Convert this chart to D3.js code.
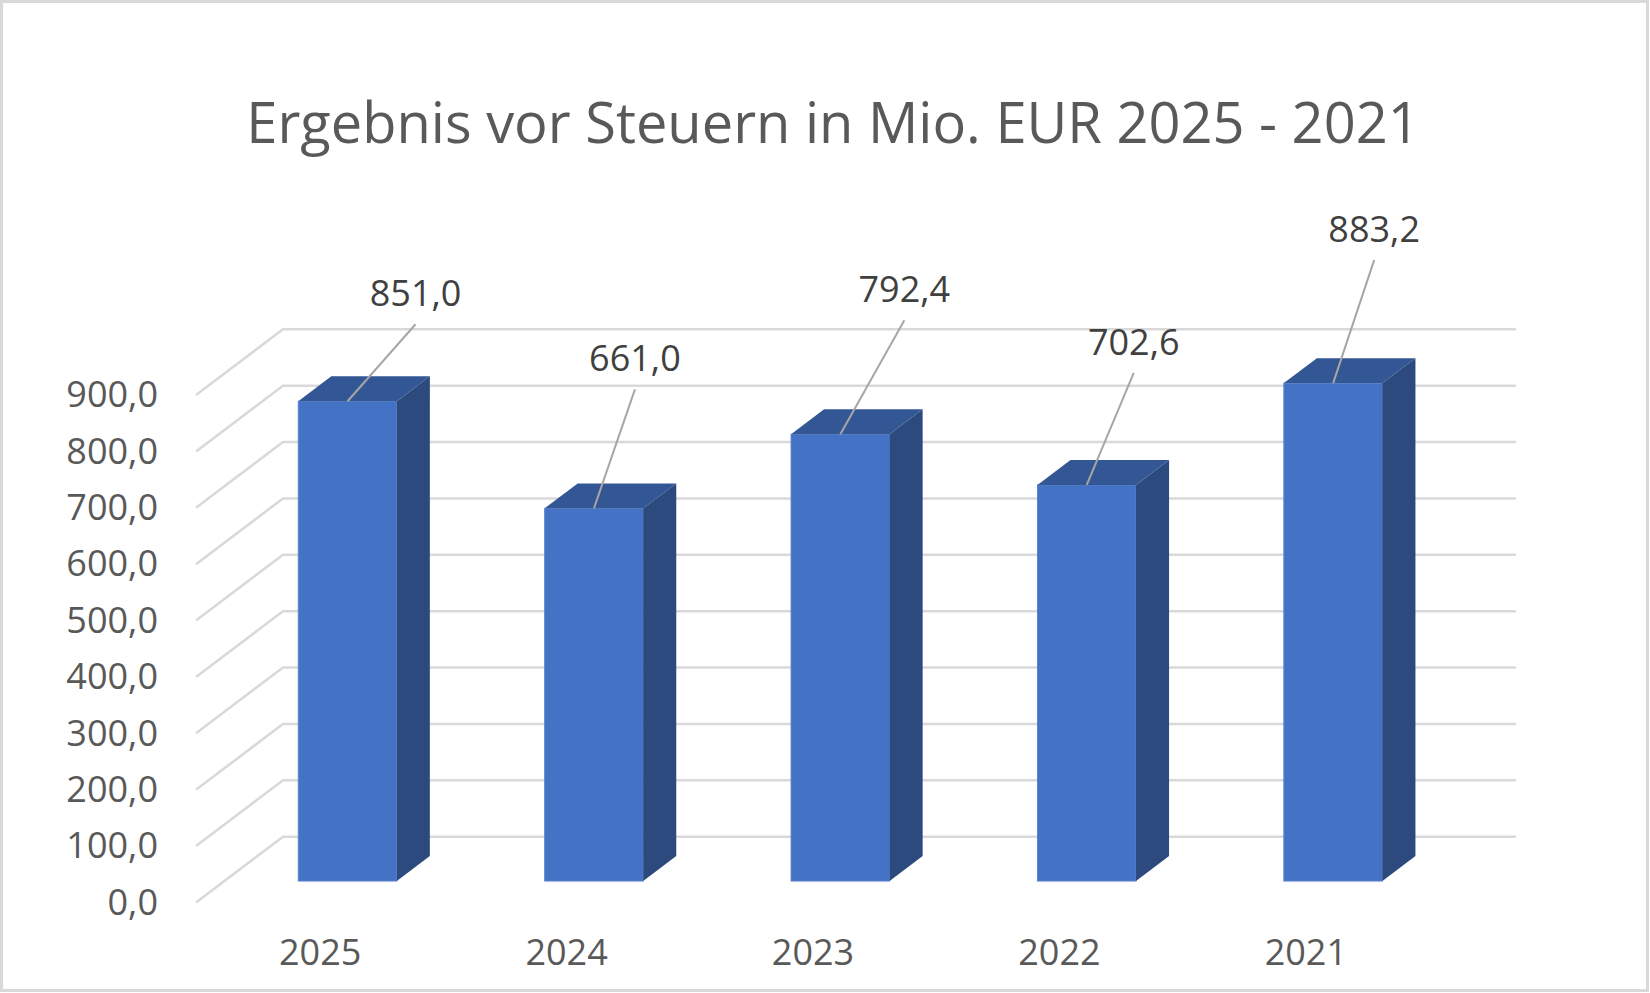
<!DOCTYPE html>
<html>
<head>
<meta charset="utf-8">
<script src="https://cdn.jsdelivr.net/npm/d3@7"></script>
<style>
  html, body { margin: 0; padding: 0; background: #fff; }
  svg { display: block; font-family: "Open Sans", sans-serif; }
</style>
</head>
<body>
<svg id="chart" width="1650" height="993"></svg>
<script>
// data
const years  = ['2025', '2024', '2023', '2022', '2021'];
const values = [851.0, 661.0, 792.4, 702.6, 883.2];
const yTicks = [0, 100, 200, 300, 400, 500, 600, 700, 800, 900];
const title  = 'Ergebnis vor Steuern in Mio. EUR 2025 - 2021';

// label placement (manually moved labels, offset from bar top edge)
const labelDX = [68, 41, 64, 47, 41];
const labelDY = [-95, -137, -132, -130, -141];

(function() {
  const W = 1650, H = 993;
  const svg = d3.select('#chart');
  const loc = d3.formatLocale({ decimal: ',', thousands: '.', grouping: [3], currency: ['', ' €'] });
  const fmt = loc.format('.1f');

  // 3d floor geometry: front plane + depth vector
  const DX = 86, DY = -65;
  const Z0 = 0.318, Z1 = 0.702;   // bar front / back depth

  const x = d3.scaleBand().domain(years).range([197, 1429])
    .paddingInner(0.6).paddingOuter(0.3);
  const y = d3.scaleLinear().domain([0, 900]).range([901.7, 394.3]);

  // border
  svg.append('rect')
    .attr('x', 1.5).attr('y', 1.5).attr('width', W - 4).attr('height', H - 4)
    .attr('fill', '#fff').attr('stroke', '#d9d9d9').attr('stroke-width', 3);

  // title
  const t = svg.append('text')
    .attr('x', 833).attr('y', 143)
    .attr('text-anchor', 'middle')
    .attr('fill', '#595959')
    .attr('font-size', 56)
    .text(title);
  const tw = t.node().getComputedTextLength();
  if (tw > 1175) t.attr('textLength', 1175).attr('lengthAdjust', 'spacingAndGlyphs');

  // gridlines: left wall diagonal + back wall horizontal
  const grid = svg.append('g').attr('stroke', '#d9d9d9').attr('stroke-width', 2.6)
    .attr('fill', 'none').attr('stroke-linecap', 'round');
  yTicks.forEach(v => {
    const yf = y(v);
    grid.append('polyline')
      .attr('points', [
        [x.range()[0], yf],
        [x.range()[0] + DX, yf + DY],
        [x.range()[1] + DX, yf + DY]
      ].map(p => p.join(',')).join(' '));
  });

  // y tick labels
  svg.append('g').selectAll('text').data(yTicks).join('text')
    .attr('x', 158).attr('y', d => y(d))
    .attr('dy', '0.36em')
    .attr('text-anchor', 'end')
    .attr('fill', '#595959')
    .attr('font-size', 36)
    .text(d => fmt(d));

  // x labels at floor front
  svg.append('g').selectAll('text').data(years).join('text')
    .attr('x', d => x(d) + x.bandwidth() / 2)
    .attr('y', 965)
    .attr('text-anchor', 'middle')
    .attr('fill', '#595959')
    .attr('font-size', 36)
    .text(d => d);

  // bars
  const bw = x.bandwidth();
  const bdx = (Z1 - Z0) * DX, bdy = (Z1 - Z0) * DY;
  const bars = svg.append('g');
  years.forEach((yr, i) => {
    const L = x(yr) + Z0 * DX, R = L + bw;
    const bot = y(0) + Z0 * DY, top = y(values[i]) + Z0 * DY;
    const g = bars.append('g');
    g.append('rect')
      .attr('x', L).attr('y', top).attr('width', bw).attr('height', bot - top)
      .attr('fill', '#4472c4').attr('stroke', '#5b83cc').attr('stroke-width', 1);
    g.append('polygon')
      .attr('points', [[R, bot], [R + bdx, bot + bdy], [R + bdx, top + bdy], [R, top]]
        .map(p => p.join(',')).join(' '))
      .attr('fill', '#2c4a7e');
    g.append('polygon')
      .attr('points', [[L, top], [L + bdx, top + bdy], [R + bdx, top + bdy], [R, top]]
        .map(p => p.join(',')).join(' '))
      .attr('fill', '#335794');

    // data label + leader line
    const cx = L + bw / 2;
    const lx = cx + labelDX[i], ly = top + labelDY[i];
    g.append('line')
      .attr('x1', lx).attr('y1', ly + 18)
      .attr('x2', cx).attr('y2', top)
      .attr('stroke', '#a6a6a6').attr('stroke-width', 2);
    g.append('text')
      .attr('x', lx).attr('y', ly)
      .attr('text-anchor', 'middle')
      .attr('fill', '#404040')
      .attr('font-size', 36)
      .text(fmt(values[i]));
  });
})();
</script>
</body>
</html>
